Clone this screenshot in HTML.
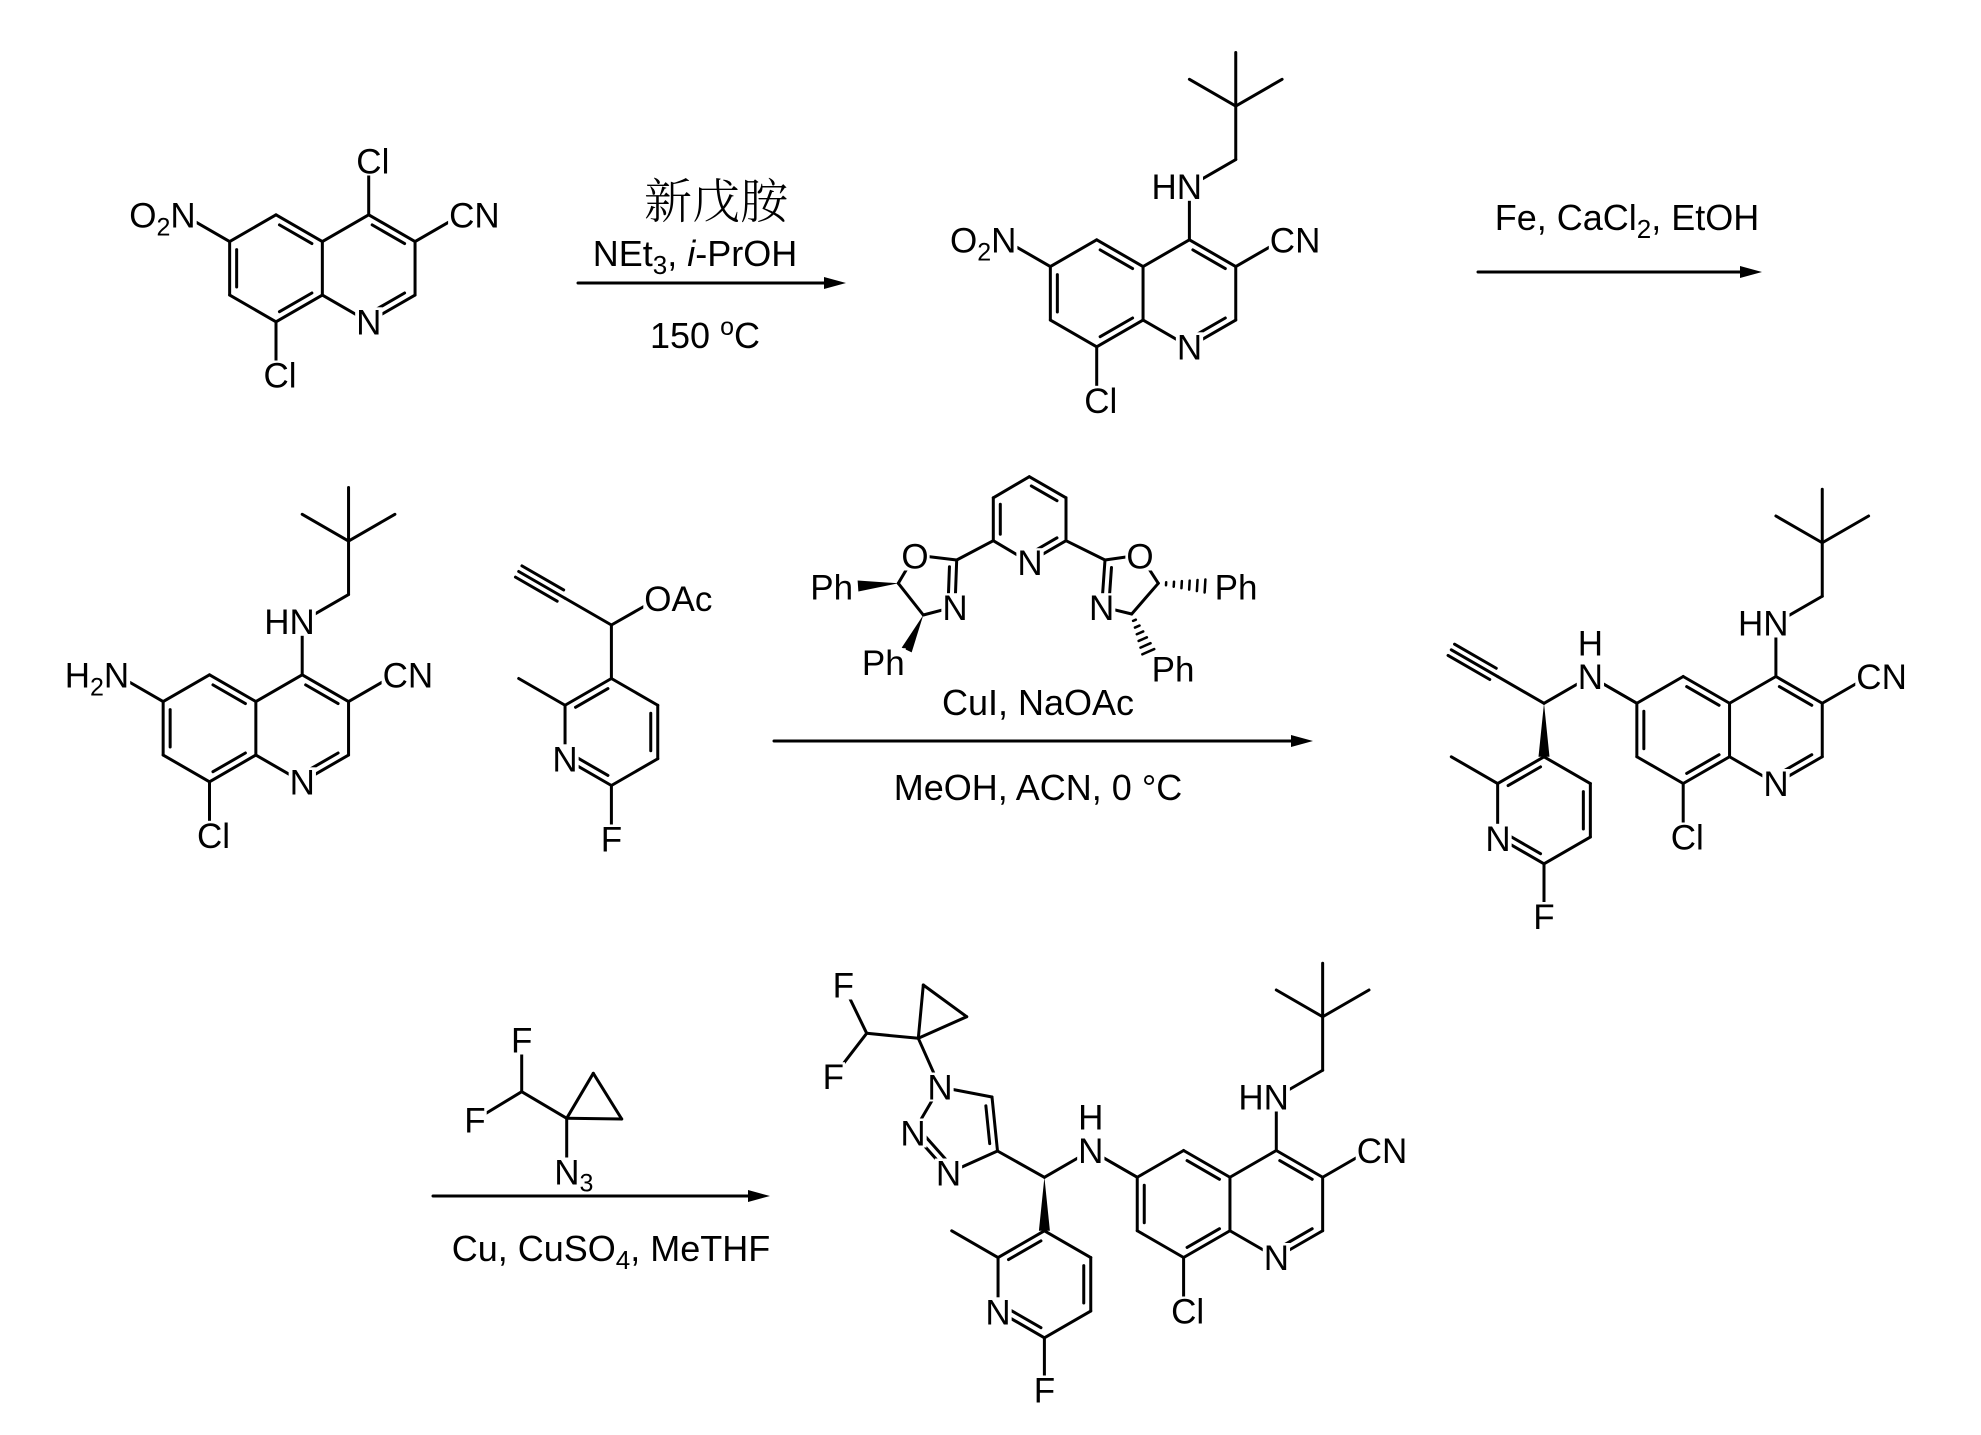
<!DOCTYPE html>
<html><head><meta charset="utf-8"><style>
html,body{margin:0;padding:0;background:#fff;}
svg{display:block}
text{font-family:"Liberation Sans",Arial,sans-serif;fill:#000;}
.a{font-size:35px}
.l{font-size:35px}
.c{font-size:36px}
</style></head><body>
<svg id="s" width="1981" height="1435" viewBox="0 0 1981 1435" xmlns="http://www.w3.org/2000/svg">
<g id="b" stroke="#000" stroke-width="3" fill="none" stroke-linecap="round"></g>
<g id="f" fill="#000"></g>
<g id="bg" fill="#fff"></g>
<g id="t">
<!-- Mol1 -->
<text class="a" x="358.8" y="171">Cl</text>
<text class="a" x="451.6" y="224.8">CN</text>
<text class="a" x="193.2" y="224.8" text-anchor="end">O<tspan font-size="25" dy="8">2</tspan><tspan dy="-8">N</tspan></text>
<text class="a" x="368.8" y="331.8" text-anchor="middle">N</text>
<text class="a" x="266" y="385">Cl</text>
<!-- Mol2 -->
<text class="a" x="1199.5" y="196.3" text-anchor="end">HN</text>
<text class="a" x="1272.3" y="249.8">CN</text>
<text class="a" x="1013.9" y="249.8" text-anchor="end">O<tspan font-size="25" dy="8">2</tspan><tspan dy="-8">N</tspan></text>
<text class="a" x="1189.5" y="356.8" text-anchor="middle">N</text>
<text class="a" x="1086.7" y="410.3">Cl</text>
<!-- Mol3 -->
<text class="a" x="312.3" y="631.3" text-anchor="end">HN</text>
<text class="a" x="126.7" y="684.8" text-anchor="end">H<tspan font-size="25" dy="8">2</tspan><tspan dy="-8">N</tspan></text>
<text class="a" x="385.1" y="684.8">CN</text>
<text class="a" x="199.5" y="845.3">Cl</text>
<text class="a" x="302.3" y="791.8" text-anchor="middle">N</text>
<!-- Mol5 -->
<text class="a" x="646.8" y="608.3">OAc</text>
<text class="a" x="565" y="768.8" text-anchor="middle">N</text>
<text class="a" x="611.4" y="849" text-anchor="middle">F</text>
<!-- Mol4 -->
<text class="a" x="1786" y="633" text-anchor="end">HN</text>
<text class="a" x="1858.8" y="686.5">CN</text>
<text class="a" x="1673.2" y="847">Cl</text>
<text class="a" x="1776" y="793.5" text-anchor="middle">N</text>
<text class="a" x="1590.4" y="686.5" text-anchor="middle">N</text>
<text class="a" x="1590.4" y="653" text-anchor="middle">H</text>
<text class="a" x="1498" y="848.3" text-anchor="middle">N</text>
<text class="a" x="1544" y="926.5" text-anchor="middle">F</text>
<!-- Final -->
<text class="a" x="1286.4" y="1107" text-anchor="end">HN</text>
<text class="a" x="1359.2" y="1160.5">CN</text>
<text class="a" x="1173.6" y="1321">Cl</text>
<text class="a" x="1276.4" y="1267.5" text-anchor="middle">N</text>
<text class="a" x="1090.8" y="1160.5" text-anchor="middle">N</text>
<text class="a" x="1090.8" y="1127" text-anchor="middle">H</text>
<text class="a" x="998" y="1321.8" text-anchor="middle">N</text>
<text class="a" x="1044.4" y="1400" text-anchor="middle">F</text>
<text class="a" x="940" y="1097" text-anchor="middle">N</text>
<text class="a" x="913" y="1143" text-anchor="middle">N</text>
<text class="a" x="948.5" y="1183" text-anchor="middle">N</text>
<text class="a" x="843.3" y="995" text-anchor="middle">F</text>
<text class="a" x="833.3" y="1086.7" text-anchor="middle">F</text>
<!-- Reagent azide -->
<text class="a" x="521.7" y="1050" text-anchor="middle">F</text>
<text class="a" x="475" y="1130" text-anchor="middle">F</text>
<text class="a" x="556.7" y="1182">N<tspan font-size="25" dy="7">3</tspan></text>
<!-- Ligand -->
<text class="l" x="915" y="566" text-anchor="middle">O</text>
<text class="l" x="955" y="617.7" text-anchor="middle">N</text>
<text class="l" x="1030" y="572.7" text-anchor="middle">N</text>
<text class="l" x="1140" y="566" text-anchor="middle">O</text>
<text class="l" x="1101.7" y="617.7" text-anchor="middle">N</text>
<text class="l" x="831.7" y="597" text-anchor="middle">Ph</text>
<text class="l" x="883.3" y="672.7" text-anchor="middle">Ph</text>
<text class="l" x="1236" y="597" text-anchor="middle">Ph</text>
<text class="l" x="1173" y="679" text-anchor="middle">Ph</text>
<!-- Conditions -->
<text x="716" y="218" text-anchor="middle" style="font-family:'Noto Serif CJK SC','Noto Sans CJK SC',serif;font-size:48px;font-weight:300">新戊胺</text>
<text class="c" x="695" y="266" text-anchor="middle">NEt<tspan font-size="26" dy="8">3</tspan><tspan dy="-8">, </tspan><tspan font-style="italic">i</tspan>-PrOH</text>
<text class="c" x="705" y="348" text-anchor="middle">150 <tspan font-size="25" dy="-13">o</tspan><tspan dy="13">C</tspan></text>
<text class="c" x="1627" y="230" text-anchor="middle">Fe, CaCl<tspan font-size="26" dy="8">2</tspan><tspan dy="-8">, EtOH</tspan></text>
<text class="c" x="1038" y="715" text-anchor="middle">CuI, NaOAc</text>
<text class="c" x="1038" y="800" text-anchor="middle">MeOH, ACN, 0 °C</text>
<text class="c" x="611" y="1261" text-anchor="middle">Cu, CuSO<tspan font-size="26" dy="8">4</tspan><tspan dy="-8">, MeTHF</tspan></text>
</g>
</svg>
<script>
var NS="http://www.w3.org/2000/svg",B=document.getElementById("b"),F=document.getElementById("f");
function ln(a,b){var e=document.createElementNS(NS,"line");e.setAttribute("x1",a[0]);e.setAttribute("y1",a[1]);e.setAttribute("x2",b[0]);e.setAttribute("y2",b[1]);B.appendChild(e);}
function dbl(a,b,c){ln(a,b);var mx=(a[0]+b[0])/2,my=(a[1]+b[1])/2,dx=b[0]-a[0],dy=b[1]-a[1],len=Math.hypot(dx,dy),nx=-dy/len,ny=dx/len;
 if((c[0]-mx)*nx+(c[1]-my)*ny<0){nx=-nx;ny=-ny;}var o=7,s=0.15;
 ln([a[0]+dx*s+nx*o,a[1]+dy*s+ny*o],[b[0]-dx*s+nx*o,b[1]-dy*s+ny*o]);}
function poly(pts){var e=document.createElementNS(NS,"polygon");e.setAttribute("points",pts.map(function(p){return p.join(",")}).join(" "));F.appendChild(e);}
function wedge(a,b,w){var dx=b[0]-a[0],dy=b[1]-a[1],l=Math.hypot(dx,dy),nx=-dy/l*w,ny=dx/l*w;poly([a,[b[0]+nx,b[1]+ny],[b[0]-nx,b[1]-ny]]);}
function hash(a,b,w){var dx=b[0]-a[0],dy=b[1]-a[1],l=Math.hypot(dx,dy),nx=-dy/l,ny=dx/l;for(var i=1;i<=6;i++){var t=i/6,x=a[0]+dx*t,y=a[1]+dy*t,ww=w*t+0.5;
 var e=document.createElementNS(NS,"line");e.setAttribute("x1",x+nx*ww);e.setAttribute("y1",y+ny*ww);e.setAttribute("x2",x-nx*ww);e.setAttribute("y2",y-ny*ww);e.setAttribute("stroke-width","2.5");B.appendChild(e);}}
function triple(a,b){ln(a,b);var dx=b[0]-a[0],dy=b[1]-a[1],l=Math.hypot(dx,dy),nx=-dy/l*6.5,ny=dx/l*6.5;
 ln([a[0]+nx+dx*0.1,a[1]+ny+dy*0.1],[b[0]+nx,b[1]+ny]);ln([a[0]-nx+dx*0.1,a[1]-ny+dy*0.1],[b[0]-nx,b[1]-ny]);}
var L=53.5,h=46.35;
function quin(lx,cy,c4sub){var rx=lx+2*h;
 var T=[lx,cy-L],A=[lx+h,cy-L/2],Q=[lx+h,cy+L/2],C8=[lx,cy+L],C7=[lx-h,cy+L/2],C6=[lx-h,cy-L/2];
 var C4=[rx,cy-L],C3=[rx+h,cy-L/2],C2=[rx+h,cy+L/2],N1=[rx,cy+L];var lc=[lx,cy],rc=[rx,cy];
 dbl(T,A,lc);ln(A,Q);dbl(Q,C8,lc);ln(C8,C7);dbl(C7,C6,lc);ln(C6,T);
 dbl(C4,C3,rc);ln(C3,C2);dbl(C2,N1,rc);ln(N1,Q);ln(A,C4);
 ln(C8,[lx,cy+2*L]);ln(C6,[lx-2*h,cy-L]);ln(C3,[rx+2*h,cy-L]);ln(C4,[rx,cy-2*L]);
 if(c4sub)neo([rx,cy-2*L]);return {C6:C6};}
function neo(N){var a=[N[0]+h,N[1]-L/2],c=[a[0],a[1]-L];ln(N,a);ln(a,c);ln(c,[c[0]-h,c[1]-L/2]);ln(c,[c[0]+h,c[1]-L/2]);ln(c,[c[0],c[1]-L]);}
function pyr(tx,ty){var T=[tx,ty],UR=[tx+h,ty+L/2],LR=[tx+h,ty+1.5*L],Bm=[tx,ty+2*L],N=[tx-h,ty+1.5*L],UL=[tx-h,ty+L/2],c=[tx,ty+L];
 dbl(T,UL,c);ln(T,UR);dbl(UR,LR,c);ln(LR,Bm);dbl(Bm,N,c);ln(N,UL);ln(UL,[tx-2*h,ty]);ln(Bm,[tx,ty+3*L]);}
quin(276,268.3,false);
quin(1096.7,293.3,true);
quin(209.5,728.3,true);
(function(){var C=[611.4,625];ln(C,[611.4,678.5]);pyr(611.4,678.5);ln(C,[650,603]);triple([C[0]-h,C[1]-L/2],[C[0]-2*h,C[1]-L]);ln(C,[C[0]-h,C[1]-L/2]);})();
(function(){var q=quin(1683.2,730,true);var N=[1590.4,676.5];ln(q.C6,N);var C=[1544,703.3];ln(N,C);
 var c1=[C[0]-h,C[1]-L/2];ln(C,c1);triple(c1,[c1[0]-h,c1[1]-L/2]);wedge(C,[1544,756.8],5.5);pyr(1544,756.8);})();
(function(){var q=quin(1183.6,1204,true);var N=[1090.8,1150.5];ln(q.C6,N);var C=[1044.4,1177.3];ln(N,C);
 wedge(C,[1044.4,1230.8],5.5);pyr(1044.4,1230.8);
 var C4=[997.5,1151],C5=[992,1097],N1=[940,1087],N2=[913,1133],N3=[948.5,1173];
 ln(C,C4);dbl(C5,C4,[960,1130]);ln(N1,C5);ln(C4,N3);ln(N1,N2);dbl(N2,N3,[960,1120]);
 var cp=[918.3,1038.3];ln(N1,cp);ln(cp,[923.3,985]);ln(cp,[966.7,1016.7]);ln([923.3,985],[966.7,1016.7]);
 var ch=[866.7,1033.3];ln(cp,ch);ln(ch,[843.3,985]);ln(ch,[833.3,1076.7]);})();
(function(){var ch=[521.7,1091.7],cp=[566.7,1118.3];ln(ch,[521.7,1040]);ln(ch,[475,1120]);ln(ch,cp);
 ln(cp,[593.3,1073.3]);ln(cp,[621.7,1119]);ln([593.3,1073.3],[621.7,1119]);ln(cp,[566.7,1170]);})();
(function(){var T=[1029.3,476.7],UR=[1066,497.8],LR=[1066,540.7],N=[1029.3,562],LL=[993.3,540.7],UL=[993.3,497.8],c=[1029.6,519];
 dbl(T,UR,c);ln(UR,LR);dbl(LR,N,c);ln(N,LL);dbl(LL,UL,c);ln(UL,T);
 var C2=[956.7,560],O=[915,555],C5=[898.3,583.3],C4=[923.3,615],Nl=[955,606.7];
 ln(LL,C2);ln(C2,O);ln(O,C5);ln(C5,C4);ln(C4,Nl);dbl(C2,Nl,[935,585]);
 wedge(C5,[858,586],5.5);wedge(C4,[906.7,650],5.5);
 var D2=[1105,560],O2=[1140,555],D5=[1158.3,583.3],D4=[1131.7,614],Nr=[1101.7,606.7];
 ln(LR,D2);ln(D2,O2);ln(O2,D5);ln(D5,D4);ln(D4,Nr);dbl(D2,Nr,[1125,585]);
 hash(D5,[1205,586],6);hash(D4,[1148.3,651.7],6);})();
function arrow(x1,x2,y){ln([x1,y],[x2-10,y]);poly([[x2,y],[x2-22,y-6],[x2-22,y+6]]);}
arrow(578,846,283);arrow(1478,1762,272);arrow(774,1313,741);arrow(433,770,1196);
var BG=document.getElementById("bg");
Array.prototype.forEach.call(document.querySelectorAll("text.a,text.l"),function(t){
 var an=t.getAttribute("text-anchor")||"start",x=+t.getAttribute("x"),y=+t.getAttribute("y");
 y+=2.5;if(an=="start")x-=2.5;if(an=="end")x+=2.5;t.setAttribute("x",x);t.setAttribute("y",y);
 var bb=t.getBBox();var r=document.createElementNS(NS,"rect");
 r.setAttribute("x",bb.x-1);r.setAttribute("y",y-27);r.setAttribute("width",bb.width+2);r.setAttribute("height",29);BG.appendChild(r);});
</script>
</body></html>
